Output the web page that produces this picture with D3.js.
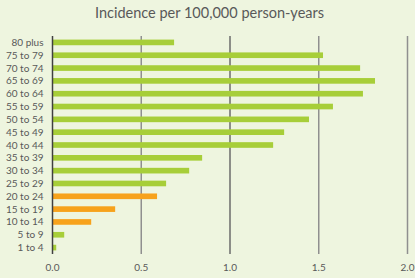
<!DOCTYPE html>
<html>
<head>
<meta charset="utf-8">
<script src="https://cdn.jsdelivr.net/npm/d3@7"></script>
<style>
  html, body { margin: 0; padding: 0; background: #eef5df; }
  svg { display: block; font-family: Lato, "Open Sans", sans-serif; }
</style>
</head>
<body>
<div id="chart"></div>
<script>
var ageGroups = ['80 plus', '75 to 79', '70 to 74', '65 to 69', '60 to 64', '55 to 59',
    '50 to 54', '45 to 49', '40 to 44', '35 to 39', '30 to 34', '25 to 29',
    '20 to 24', '15 to 19', '10 to 14', '5 to 9', '1 to 4'];
var incidence = [0.685, 1.524, 1.733, 1.817, 1.749, 1.58, 1.445, 1.305, 1.243,
    0.843, 0.77, 0.64, 0.589, 0.353, 0.218, 0.066, 0.021];
var highlighted = ['20 to 24', '15 to 19', '10 to 14'];
var xTicks = [0, 0.5, 1.0, 1.5, 2.0];

var width = 415, height = 278;
var margin = { top: 36, right: 7.5, bottom: 24, left: 52.5 };

var svg = d3.select('#chart').append('svg')
    .attr('width', width)
    .attr('height', height);

svg.append('rect').attr('width', width).attr('height', height).attr('fill', '#eef5df');

var x = d3.scaleLinear().domain([0, 2]).range([margin.left, width - margin.right]);
var y = d3.scaleBand().domain(ageGroups)
    .range([margin.top, height - margin.bottom])
    .paddingInner(0.56).paddingOuter(0.28);

svg.append('text')
    .attr('x', width / 2 + 2)
    .attr('y', 18)
    .attr('text-anchor', 'middle')
    .attr('fill', '#595959')
    .attr('font-size', 14.5)
    .text('Incidence per 100,000 person-years');

// gridlines
svg.append('g')
    .selectAll('line')
    .data(xTicks.slice(1))
    .enter()
    .append('line')
    .attr('x1', function (d) { return x(d); })
    .attr('x2', function (d) { return x(d); })
    .attr('y1', margin.top)
    .attr('y2', height - margin.bottom)
    .attr('stroke', function (d) { return d === 1 ? '#6b6b6b' : '#8f8f8f'; })
    .attr('stroke-width', 1.5);

// bars
svg.append('g')
    .selectAll('rect')
    .data(ageGroups)
    .enter()
    .append('rect')
    .attr('x', x(0))
    .attr('y', function (d) { return y(d); })
    .attr('width', function (d, i) { return x(incidence[i]) - x(0); })
    .attr('height', y.bandwidth())
    .attr('fill', function (d) {
        return highlighted.includes(d) ? '#f7a21c' : '#a7ce39';
    });

// axis line at zero
svg.append('line')
    .attr('x1', x(0)).attr('x2', x(0))
    .attr('y1', margin.top).attr('y2', height - margin.bottom)
    .attr('stroke', '#404040')
    .attr('stroke-width', 1.5);

// category labels
svg.append('g')
    .selectAll('text')
    .data(ageGroups)
    .enter()
    .append('text')
    .attr('x', x(0) - 9)
    .attr('y', function (d) { return y(d) + y.bandwidth() / 2; })
    .attr('dy', '0.35em')
    .attr('text-anchor', 'end')
    .attr('fill', '#595959')
    .attr('font-size', 10)
    .text(function (d) { return d; });

// x tick labels
svg.append('g')
    .selectAll('text')
    .data(xTicks)
    .enter()
    .append('text')
    .attr('x', function (d) { return x(d); })
    .attr('y', 271)
    .attr('text-anchor', 'middle')
    .attr('fill', '#595959')
    .attr('font-size', 10)
    .text(function (d) { return d3.format('.1f')(d); });
</script>
</body>
</html>
